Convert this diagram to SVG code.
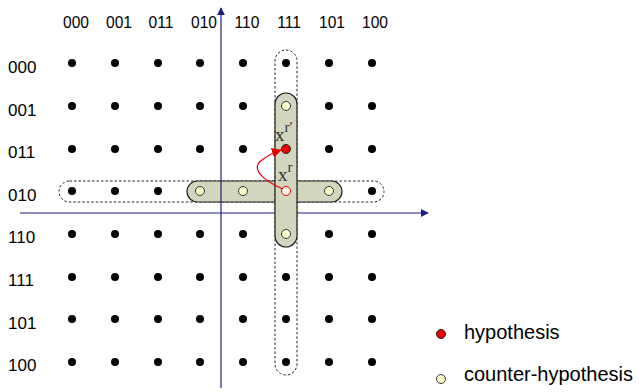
<svg xmlns="http://www.w3.org/2000/svg" width="644" height="392" viewBox="0 0 644 392">
  <defs>
    <style>
      .lbl { font-family: "Liberation Sans", Arial, sans-serif; fill: #000; }
      .col { text-anchor: middle; font-size: 15.6px; }
      .row { font-size: 17px; }
      .leg { font-size: 20px; }
      .math { font-family: "Liberation Serif", "Times New Roman", serif; fill: #333; }
      .dot { fill: #000; }
      .ch { fill: #ffffcc; stroke: #333; stroke-width: 1; }
      .band { fill: #d3d6bf; stroke: #222; stroke-width: 1.2; }
      .scope { fill: none; stroke: #222; stroke-width: 1; stroke-dasharray: 2.5 2; }
      .axis { stroke: #1c1c8a; stroke-width: 1.2; fill: none; }
    </style>
    <marker id="axisHead" viewBox="0 0 10 10" refX="9" refY="5" markerWidth="8" markerHeight="8" orient="auto" markerUnits="userSpaceOnUse">
      <path d="M0,0 L10,5 L0,10 z" fill="#1c1c8a"/>
    </marker>
    <marker id="redHead" viewBox="0 0 10 10" refX="9" refY="5" markerWidth="10" markerHeight="10" orient="auto" markerUnits="userSpaceOnUse">
      <path d="M0,0 L10,5 L0,10 z" fill="#e00000"/>
    </marker>
  </defs>

  <!-- column labels -->
  <g id="col-labels">
    <text class="lbl col" x="76" y="28">000</text>
    <text class="lbl col" x="119" y="28">001</text>
    <text class="lbl col" x="161" y="28">011</text>
    <text class="lbl col" x="204" y="28">010</text>
    <text class="lbl col" x="247" y="28">110</text>
    <text class="lbl col" x="289" y="28">111</text>
    <text class="lbl col" x="332" y="28">101</text>
    <text class="lbl col" x="375" y="28">100</text>
  </g>

  <!-- row labels -->
  <g id="row-labels">
    <text class="lbl row" x="8" y="73">000</text>
    <text class="lbl row" x="8" y="116">001</text>
    <text class="lbl row" x="8" y="158">011</text>
    <text class="lbl row" x="8" y="201">010</text>
    <text class="lbl row" x="8" y="243">110</text>
    <text class="lbl row" x="8" y="286">111</text>
    <text class="lbl row" x="8" y="329">101</text>
    <text class="lbl row" x="8" y="371">100</text>
  </g>

  <!-- horizontal neighbourhood (row 010) -->
  <g id="row-scope">
    <rect class="scope" x="59" y="181" width="325" height="21" rx="10.5"/>
    <rect class="band" x="187" y="181" width="155" height="21" rx="10.5"/>
  </g>

  <!-- axes -->
  <g id="connectors">
    <line class="axis" x1="221" y1="388" x2="221" y2="8" marker-end="url(#axisHead)"/>
    <line class="axis" x1="20" y1="213" x2="428" y2="213" marker-end="url(#axisHead)"/>
  </g>

  <!-- vertical neighbourhood (column 111) -->
  <g id="col-scope">
    <rect class="scope" x="275" y="50" width="22" height="325" rx="11"/>
    <rect class="band" x="275" y="93" width="22" height="154" rx="11"/>
  </g>

  <!-- lattice points -->
  <g id="points">
    <g id="r000">
      <circle class="dot" cx="72" cy="63" r="4"/><circle class="dot" cx="115" cy="63" r="4"/><circle class="dot" cx="158" cy="63" r="4"/><circle class="dot" cx="200" cy="63" r="4"/>
      <circle class="dot" cx="243" cy="63" r="4"/><circle class="dot" cx="286" cy="63" r="4"/><circle class="dot" cx="329" cy="63" r="4"/><circle class="dot" cx="372" cy="63" r="4"/>
    </g>
    <g id="r001">
      <circle class="dot" cx="72" cy="106" r="4"/><circle class="dot" cx="115" cy="106" r="4"/><circle class="dot" cx="158" cy="106" r="4"/><circle class="dot" cx="200" cy="106" r="4"/>
      <circle class="dot" cx="243" cy="106" r="4"/><circle class="ch" cx="286" cy="106" r="4.5"/><circle class="dot" cx="329" cy="106" r="4"/><circle class="dot" cx="372" cy="106" r="4"/>
    </g>
    <g id="r011">
      <circle class="dot" cx="72" cy="149" r="4"/><circle class="dot" cx="115" cy="149" r="4"/><circle class="dot" cx="158" cy="149" r="4"/><circle class="dot" cx="200" cy="149" r="4"/>
      <circle class="dot" cx="243" cy="149" r="4"/><circle cx="286" cy="149" r="4.5" fill="#ee0000" stroke="#222" stroke-width="1"/><circle class="dot" cx="329" cy="149" r="4"/><circle class="dot" cx="372" cy="149" r="4"/>
    </g>
    <g id="r010">
      <circle class="dot" cx="72" cy="191" r="4"/><circle class="dot" cx="115" cy="191" r="4"/><circle class="dot" cx="158" cy="191" r="4"/><circle class="ch" cx="200" cy="191" r="4.5"/>
      <circle class="ch" cx="243" cy="191" r="4.5"/><circle cx="286" cy="191" r="4.5" fill="#fff6f0" stroke="#ee0000" stroke-width="1"/><circle class="ch" cx="329" cy="191" r="4.5"/><circle class="dot" cx="372" cy="191" r="4"/>
    </g>
    <g id="r110">
      <circle class="dot" cx="72" cy="234" r="4"/><circle class="dot" cx="115" cy="234" r="4"/><circle class="dot" cx="158" cy="234" r="4"/><circle class="dot" cx="200" cy="234" r="4"/>
      <circle class="dot" cx="243" cy="234" r="4"/><circle class="ch" cx="286" cy="234" r="4.5"/><circle class="dot" cx="329" cy="234" r="4"/><circle class="dot" cx="372" cy="234" r="4"/>
    </g>
    <g id="r111">
      <circle class="dot" cx="72" cy="277" r="4"/><circle class="dot" cx="115" cy="277" r="4"/><circle class="dot" cx="158" cy="277" r="4"/><circle class="dot" cx="200" cy="277" r="4"/>
      <circle class="dot" cx="243" cy="277" r="4"/><circle class="dot" cx="286" cy="277" r="4"/><circle class="dot" cx="329" cy="277" r="4"/><circle class="dot" cx="372" cy="277" r="4"/>
    </g>
    <g id="r101">
      <circle class="dot" cx="72" cy="319" r="4"/><circle class="dot" cx="115" cy="319" r="4"/><circle class="dot" cx="158" cy="319" r="4"/><circle class="dot" cx="200" cy="319" r="4"/>
      <circle class="dot" cx="243" cy="319" r="4"/><circle class="dot" cx="286" cy="319" r="4"/><circle class="dot" cx="329" cy="319" r="4"/><circle class="dot" cx="372" cy="319" r="4"/>
    </g>
    <g id="r100">
      <circle class="dot" cx="72" cy="362" r="4"/><circle class="dot" cx="115" cy="362" r="4"/><circle class="dot" cx="158" cy="362" r="4"/><circle class="dot" cx="200" cy="362" r="4"/>
      <circle class="dot" cx="243" cy="362" r="4"/><circle class="dot" cx="286" cy="362" r="4"/><circle class="dot" cx="329" cy="362" r="4"/><circle class="dot" cx="372" cy="362" r="4"/>
    </g>
  </g>

  <!-- move from x^r to x^r' -->
  <g id="move">
    <path d="M283,189 C262,180 250,168 262,160 C266,157 272,153 281,150" fill="none" stroke="#ee0000" stroke-width="1.2" marker-end="url(#redHead)"/>
  </g>

  <!-- point labels -->
  <g id="point-labels">
    <text class="math" x="275" y="141" font-size="19">x<tspan dy="-9" font-size="15">r′</tspan></text>
    <text class="math" x="278" y="181" font-size="19">x<tspan dy="-9" font-size="15">r</tspan></text>
  </g>

  <!-- legend -->
  <g id="legend">
    <circle cx="441" cy="334" r="4.5" fill="#ee0000" stroke="#222" stroke-width="1"/>
    <text class="lbl leg" x="464" y="339">hypothesis</text>
    <circle class="ch" cx="441" cy="379" r="4.5"/>
    <text class="lbl leg" x="464" y="381">counter-hypothesis</text>
  </g>
</svg>
